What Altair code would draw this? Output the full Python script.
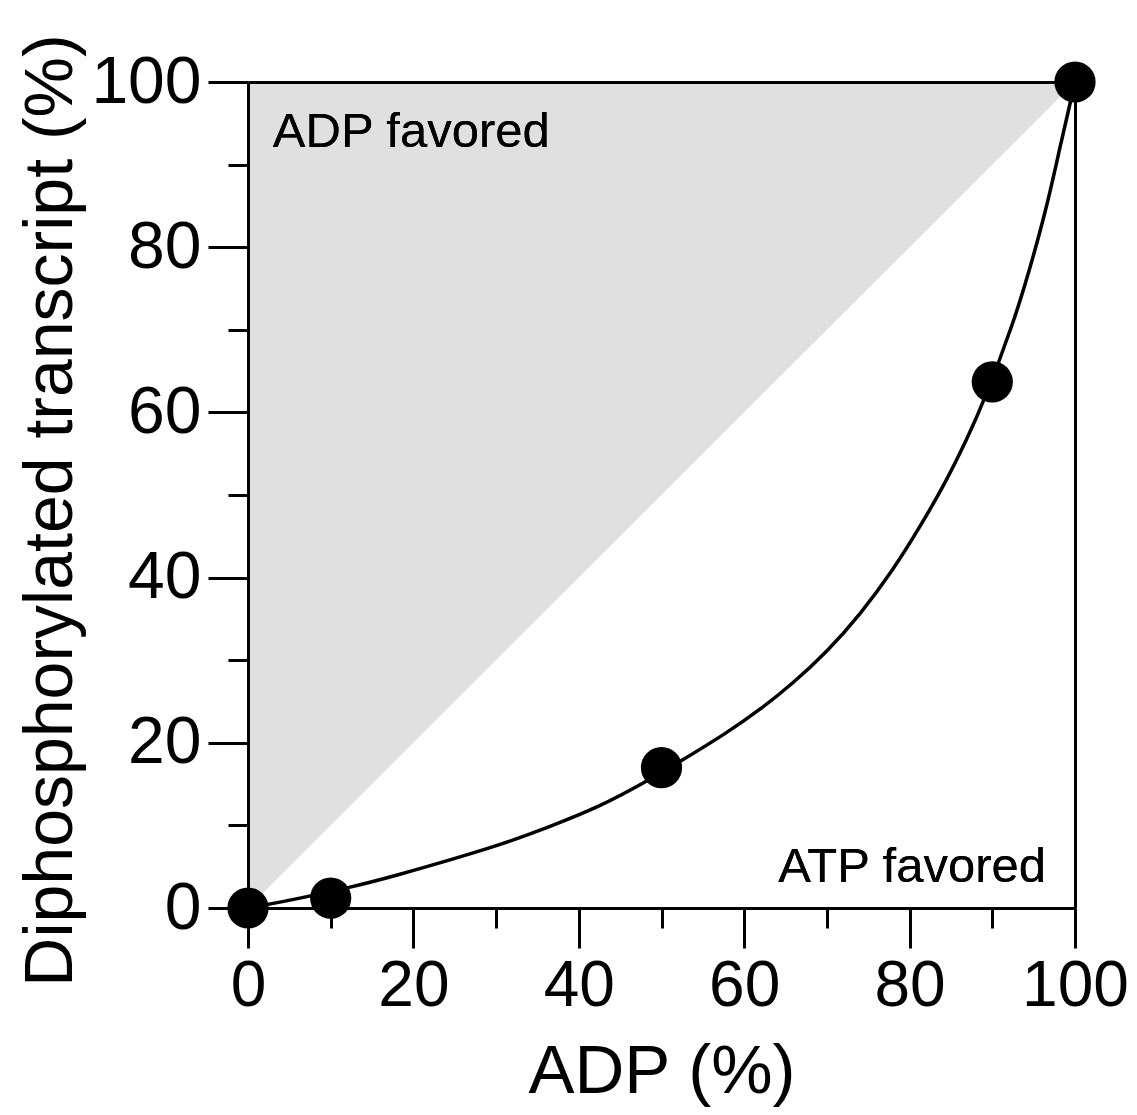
import altair as alt
import pandas as pd

# measured data points
adp_pts = [0, 10, 50, 90, 100]
diphos_pts = [0, 1.2, 17.0, 63.7, 100]

# fitted curve
curve_x = [0, 5, 12.3, 18.4, 24.4, 30.5, 36.5, 42.6, 47.8, 52.2, 57.9, 61.9, 65.9, 70.0,
           74.0, 78.0, 81.3, 84.5, 86.9, 88.9, 92.7, 94.6, 96.6, 98.2, 100]
curve_y = [0, 0.9, 2.46, 4.07, 5.81, 7.63, 9.84, 12.3, 15.1, 17.7, 21.2, 24.0, 27.2, 31.0,
           35.5, 40.9, 46.2, 51.8, 56.7, 61.1, 71.2, 77.6, 84.9, 92.2, 100]

# shaded "ADP favored" region (above the diagonal)
shade_x = [0, 100]
shade_lo = [0, 100]
shade_hi = [100, 100]

major_ticks = [0, 20, 40, 60, 80, 100]
minor_ticks = [10, 30, 50, 70, 90]

FONT = "Liberation Sans"

pts_df = pd.DataFrame({"x": adp_pts, "y": diphos_pts})
curve_df = pd.DataFrame({"x": curve_x, "y": curve_y})
shade_df = pd.DataFrame({"x": shade_x, "lo": shade_lo, "hi": shade_hi})

xs = alt.Scale(domain=[0, 100], nice=False, zero=False)
ys = alt.Scale(domain=[0, 100], nice=False, zero=False)

x_major = alt.Axis(values=major_ticks, orient="bottom", tickSize=40, tickColor="black",
                   tickWidth=3, domainColor="black", domainWidth=3, grid=False, zindex=1,
                   labelFont=FONT, labelFontSize=64, labelColor="black", labelPadding=6,
                   labelFlush=False, labelOverlap=False, format="d",
                   title="ADP (%)", titleFont=FONT, titleFontSize=69,
                   titleFontWeight="normal", titleColor="black", titleX=413.5, titleY=184,
                   titleBaseline="alphabetic", titleAlign="center")
y_major = alt.Axis(values=major_ticks, orient="left", tickSize=40, tickColor="black",
                   tickWidth=3, domainColor="black", domainWidth=3, grid=False, zindex=1,
                   labelFont=FONT, labelFontSize=66, labelColor="black", labelPadding=7,
                   labelFlush=False, labelOverlap=False, format="d",
                   title="Diphosphorylated transcript (%)", titleFont=FONT,
                   titleFontSize=68, titleFontWeight="normal", titleColor="black",
                   titleAngle=270, titleX=-177, titleY=428, titleBaseline="alphabetic",
                   titleAlign="center")

shade = alt.Chart(shade_df).mark_area(color="#e0e0e0", opacity=1).encode(
    x=alt.X("x:Q", scale=xs, axis=None),
    y=alt.Y("lo:Q", scale=ys, axis=None),
    y2="hi:Q",
)

line = alt.Chart(curve_df).mark_line(color="black", strokeWidth=3.5, interpolate="basis").encode(
    x=alt.X("x:Q", scale=xs, axis=None),
    y=alt.Y("y:Q", scale=ys, axis=None),
)

points = alt.Chart(pts_df).mark_circle(color="black", opacity=1, size=1700).encode(
    x=alt.X("x:Q", scale=xs, axis=None),
    y=alt.Y("y:Q", scale=ys, axis=None),
)

txt_adp = alt.Chart(shade_df).mark_text(font=FONT, fontSize=49, align="left",
                                        baseline="alphabetic", color="black").encode(
    x=alt.X(datum=3, scale=xs, axis=None),
    y=alt.Y(datum=92.1, scale=ys, axis=None),
    text=alt.value("ADP favored"),
)

txt_atp = alt.Chart(shade_df).mark_text(font=FONT, fontSize=49, align="right",
                                        baseline="alphabetic", color="black").encode(
    x=alt.X(datum=96.5, scale=xs, axis=None),
    y=alt.Y(datum=3.1, scale=ys, axis=None),
    text=alt.value("ATP favored"),
)

main = alt.layer(shade, line, points, txt_adp, txt_atp)

major = alt.Chart(shade_df).mark_point(opacity=0).encode(
    x=alt.X("x:Q", scale=xs, axis=x_major),
    y=alt.Y("lo:Q", scale=ys, axis=y_major),
)

minor = alt.Chart(shade_df).mark_point(opacity=0).encode(
    x=alt.X("x:Q", scale=xs, title=None,
            axis=alt.Axis(values=minor_ticks, orient="bottom", tickSize=20, labels=False,
                          domain=False, title=None, tickColor="black", tickWidth=3,
                          grid=False, zindex=1)),
    y=alt.Y("lo:Q", scale=ys, title=None,
            axis=alt.Axis(values=minor_ticks, orient="left", tickSize=20, labels=False,
                          domain=False, title=None, tickColor="black", tickWidth=3,
                          grid=False, zindex=1)),
)

frame = alt.Chart(shade_df).mark_point(opacity=0).encode(
    x=alt.X("x:Q", scale=xs, title=None,
            axis=alt.Axis(orient="top", ticks=False, labels=False, title=None,
                          domainColor="black", domainWidth=3, grid=False, zindex=1)),
    y=alt.Y("lo:Q", scale=ys, title=None,
            axis=alt.Axis(orient="right", ticks=False, labels=False, title=None,
                          domainColor="black", domainWidth=3, grid=False, zindex=1)),
)

chart = alt.layer(main, major, minor, frame).resolve_axis(
    x="independent", y="independent"
).properties(
    width=827, height=826,
    autosize=alt.AutoSizeParams(type="none"),
    padding={"left": 240, "top": 74, "right": 54, "bottom": 199},
    background="white",
).configure_view(stroke=None)

chart.save("out.html", embed_options={"renderer": "svg", "actions": False})
